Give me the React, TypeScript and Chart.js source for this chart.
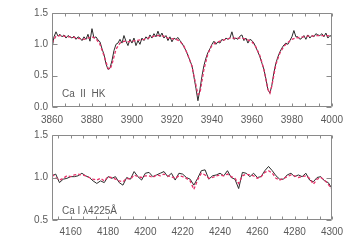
import { useEffect, useRef } from 'react';
import { Chart, registerables } from 'chart.js';

Chart.register(...registerables);

// ---------- Top panel: Ca II HK (observed on a 1 Å grid from 3860) ----------
const TOP_START = 3860;
const TOP_STEP = 1;
const topFlux = [
  0.93, 1.12, 1.20, 1.13, 1.16, 1.12, 1.15, 1.10, 1.14, 1.12,
  1.10, 1.13, 1.08, 1.12, 1.10, 1.06, 1.12, 1.08, 1.16, 1.05,
  1.25, 1.10, 1.12, 1.07, 1.04, 0.93, 0.84, 0.69, 0.60, 0.62,
  0.74, 0.90, 1.00, 1.02, 1.08, 1.02, 1.14, 1.05, 0.98, 1.08,
  1.02, 1.10, 0.98, 1.06, 1.00, 1.10, 1.06, 1.12, 1.08, 1.15,
  1.10, 1.17, 1.12, 1.21, 1.12, 1.18, 1.10, 1.14, 1.06, 1.12,
  1.04, 1.10, 1.08, 1.11, 1.06, 1.02, 0.96, 0.90, 0.82, 0.74,
  0.66, 0.48, 0.30, 0.10, 0.28, 0.49, 0.66, 0.78, 0.87, 0.93,
  1.00, 1.05, 1.00, 1.04, 1.02, 1.08, 1.06, 1.10, 1.08, 1.10,
  1.20, 1.08, 1.10, 1.08, 1.13, 1.15, 1.06, 1.10, 1.02, 1.08,
  1.06, 1.02, 0.95, 0.88, 0.80, 0.70, 0.60, 0.45, 0.28, 0.22,
  0.35, 0.55, 0.70, 0.80, 0.88, 0.94, 0.99, 1.02, 1.00, 1.06,
  1.12, 1.22, 1.12, 1.12, 1.08, 1.10, 1.14, 1.08, 1.15, 1.10,
  1.14, 1.12, 1.17, 1.15, 1.14, 1.17, 1.12, 1.18, 1.10, 1.14,
  1.12,
];
const topModelWave = [
  3860, 3862, 3864, 3866, 3868, 3870, 3872, 3874, 3876, 3878,
  3880, 3882, 3884, 3886, 3888, 3889, 3890, 3892, 3894, 3896,
  3898, 3900, 3902, 3904, 3906, 3908, 3910, 3912, 3914, 3916,
  3918, 3920, 3922, 3924, 3926, 3928, 3930, 3932, 3933, 3934,
  3936, 3938, 3940, 3942, 3944, 3946, 3948, 3950, 3952, 3954,
  3956, 3958, 3960, 3962, 3964, 3966, 3968, 3969, 3970, 3972,
  3974, 3976, 3978, 3980, 3982, 3984, 3986, 3988, 3990, 3992,
  3994, 3996, 3998, 4000,
];
const topModelFlux = [
  1.02, 1.13, 1.14, 1.13, 1.12, 1.12, 1.10, 1.09, 1.08, 1.10,
  1.12, 1.09, 1.00, 0.82, 0.62, 0.60, 0.68, 0.92, 1.02, 1.05,
  1.04, 1.05, 1.06, 1.07, 1.08, 1.10, 1.12, 1.14, 1.14, 1.13,
  1.10, 1.09, 1.08, 1.05, 0.97, 0.83, 0.65, 0.35, 0.20, 0.22,
  0.60, 0.85, 0.98, 1.03, 1.05, 1.07, 1.09, 1.10, 1.10, 1.10,
  1.09, 1.07, 1.04, 0.96, 0.82, 0.60, 0.28, 0.22, 0.34, 0.68,
  0.86, 0.97, 1.03, 1.08, 1.10, 1.11, 1.12, 1.13, 1.13, 1.14,
  1.14, 1.14, 1.14, 1.12,
];
const topXTicks = [3860, 3880, 3900, 3920, 3940, 3960, 3980, 4000];
const topYTicks = [0.0, 0.5, 1.0, 1.5];

// ---------- Bottom panel: Ca I 4225 (2 Å grid from 4150) ----------
const BOT_START = 4150;
const BOT_STEP = 2;
const botFlux = [
  1.02, 1.04, 0.94, 0.98, 0.99, 1.01, 1.01, 1.02, 1.05, 1.02,
  1.00, 0.96, 0.93, 0.96, 0.94, 1.01, 0.99, 1.01, 0.94, 0.91,
  1.00, 0.98, 1.07, 1.01, 0.97, 1.05, 1.06, 1.01, 1.03, 1.05,
  1.07, 1.01, 1.05, 0.97, 1.05, 1.04, 1.00, 0.98, 0.91, 0.99,
  1.08, 1.09, 0.98, 1.02, 1.03, 1.05, 1.02, 1.08, 1.00, 0.98,
  0.87, 1.06, 1.05, 1.01, 1.05, 1.00, 1.01, 1.08, 1.13, 1.08,
  1.02, 0.98, 0.98, 1.03, 1.05, 1.01, 1.03, 1.01, 1.05, 0.97,
  0.95, 1.00, 1.01, 0.96, 0.94, 0.87,
];
const botModelFlux = [
  1.04, 1.00, 0.97, 0.99, 1.02, 1.01, 1.03, 1.04, 1.03, 1.02,
  1.00, 0.98, 0.97, 0.99, 0.96, 1.01, 1.00, 0.98, 0.96, 0.95,
  0.99, 0.98, 1.03, 1.01, 1.00, 1.02, 1.02, 1.00, 1.03, 1.02,
  1.04, 1.02, 1.01, 0.99, 1.02, 1.01, 0.99, 0.96, 0.86, 0.97,
  1.05, 1.03, 0.99, 1.00, 1.02, 1.03, 1.02, 1.04, 1.01, 0.99,
  0.93, 1.02, 1.04, 1.03, 1.02, 0.99, 1.01, 1.06, 1.08, 1.05,
  0.99, 0.97, 0.99, 1.01, 1.03, 1.02, 1.00, 1.01, 1.02, 0.99,
  0.92, 0.98, 1.00, 0.97, 0.92, 0.86,
];
const botXTicks = [4160, 4180, 4200, 4220, 4240, 4260, 4280, 4300];
const botYTicks = [0.5, 1.0, 1.5];

const FONT = '"Liberation Sans", "DejaVu Sans", sans-serif';
const TEXT = '#5a5a5a';
const FRAME = '#8a8a8a';
const OBS = '#2a2a2a';
const MODEL = '#e6336b';

const grid = (start: number, step: number, n: number) =>
  Array.from({ length: n }, (_, i) => start + i * step);

const framePlugin = {
  id: 'frame',
  afterDatasetsDraw(chart: any, _args: any, opts: any) {
    const { ctx, chartArea: a, scales } = chart;
    const x = scales.x;
    const y = scales.y;
    const L = Math.round(a.left) + 0.5;
    const R = Math.round(a.right) - 0.5;
    const T = Math.round(a.top) + 0.5;
    const B = Math.round(a.bottom) - 0.5;
    ctx.save();
    ctx.strokeStyle = FRAME;
    ctx.lineWidth = 1;
    ctx.beginPath();
    ctx.rect(L, T, R - L, B - T);
    for (const v of opts.yTicks) {
      const py = Math.round(y.getPixelForValue(v)) + 0.5;
      ctx.moveTo(L, py); ctx.lineTo(L + 5, py);
      ctx.moveTo(R, py); ctx.lineTo(R - 5, py);
    }
    const xt: number[] = opts.xTicks;
    const step = (xt[1] - xt[0]) / 3;
    for (let v = xt[0] - 3 * step; v <= x.max + 1e-6; v += step) {
      if (v < x.min - 1e-6) continue;
      const px = Math.round(x.getPixelForValue(v)) + 0.5;
      ctx.moveTo(px, B); ctx.lineTo(px, B - 3);
      ctx.moveTo(px, T); ctx.lineTo(px, T + 3);
    }
    ctx.stroke();
    ctx.fillStyle = TEXT;
    ctx.font = `10px ${FONT}`;
    ctx.textBaseline = 'middle';
    ctx.fillText(opts.label, a.left + 10, a.bottom - opts.labelOffset);
    ctx.restore();
  },
};

function makeConfig(p: {
  obsX: number[]; obsY: number[]; modX: number[]; modY: number[];
  xMin: number; xMax: number; yMin: number; yMax: number;
  xTicks: number[]; yTicks: number[]; height: number; top: number; bottom: number;
  label: string; labelOffset: number; xPad: number;
}): any {
  return {
    type: 'line',
    data: {
      datasets: [
        {
          data: p.modX.map((v, i) => ({ x: v, y: p.modY[i] })),
          borderColor: MODEL, borderWidth: 1.3, borderDash: [3, 2],
          pointRadius: 0, tension: 0, order: 0,
        },
        {
          data: p.obsX.map((v, i) => ({ x: v, y: p.obsY[i] })),
          borderColor: OBS, borderWidth: 1,
          pointRadius: 0, tension: 0, order: 1,
        },
      ],
    },
    options: {
      responsive: false,
      animation: false,
      devicePixelRatio: 1,
      layout: { padding: { left: 0, right: 18, top: p.top, bottom: 0 } },
      plugins: {
        legend: { display: false },
        tooltip: { enabled: false },
        frame: { xTicks: p.xTicks, yTicks: p.yTicks, label: p.label, labelOffset: p.labelOffset },
      },
      scales: {
        x: {
          type: 'linear', min: p.xMin, max: p.xMax,
          grid: { display: false, drawTicks: false },
          border: { display: false },
          ticks: {
            color: TEXT, font: { family: FONT, size: 10 }, padding: p.xPad,
            maxRotation: 0, autoSkip: false, callback: (v: any) => String(v),
          },
          afterBuildTicks: (s: any) => { s.ticks = p.xTicks.map((v) => ({ value: v })); },
          afterFit: (s: any) => { s.height = p.height - p.bottom; },
        },
        y: {
          type: 'linear', min: p.yMin, max: p.yMax,
          grid: { display: false, drawTicks: false },
          border: { display: false },
          ticks: {
            color: TEXT, font: { family: FONT, size: 10 }, padding: 4,
            callback: (v: any) => Number(v).toFixed(1),
          },
          afterBuildTicks: (s: any) => { s.ticks = p.yTicks.map((v) => ({ value: v })); },
          afterFit: (s: any) => { s.width = 52; },
        },
      },
    },
    plugins: [framePlugin],
  };
}

export default function App() {
  const topRef = useRef<HTMLCanvasElement | null>(null);
  const botRef = useRef<HTMLCanvasElement | null>(null);

  useEffect(() => {
    const topWave = grid(TOP_START, TOP_STEP, topFlux.length);
    const botWave = grid(BOT_START, BOT_STEP, botFlux.length);
    const c1 = new Chart(topRef.current as HTMLCanvasElement, makeConfig({
      obsX: topWave, obsY: topFlux, modX: topModelWave, modY: topModelFlux,
      xMin: 3860, xMax: 4000, yMin: 0, yMax: 1.5,
      xTicks: topXTicks, yTicks: topYTicks, height: 128, top: 13, bottom: 107,
      label: 'Ca  II  HK', labelOffset: 13, xPad: 7,
    }));
    const c2 = new Chart(botRef.current as HTMLCanvasElement, makeConfig({
      obsX: botWave, obsY: botFlux, modX: botWave, modY: botModelFlux,
      xMin: 4150, xMax: 4300, yMin: 0.5, yMax: 1.5,
      xTicks: botXTicks, yTicks: botYTicks, height: 123, top: 13, bottom: 98,
      label: 'Ca I λ4225Å', labelOffset: 9, xPad: 6,
    }));
    return () => { c1.destroy(); c2.destroy(); };
  }, []);

  return (
    <div style={{ position: 'fixed', left: 0, top: 0, width: 350, height: 245, background: '#fff' }}>
      <canvas ref={topRef} width={350} height={128} style={{ position: 'absolute', left: 0, top: 0, width: 350, height: 128 }} />
      <canvas ref={botRef} width={350} height={123} style={{ position: 'absolute', left: 0, top: 122, width: 350, height: 123 }} />
    </div>
  );
}
